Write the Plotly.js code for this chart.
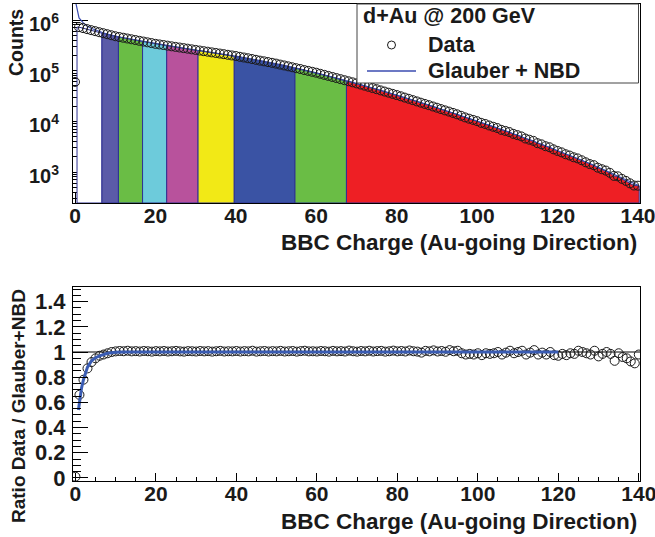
<!DOCTYPE html>
<html><head><meta charset="utf-8">
<script src="https://cdn.plot.ly/plotly-3.0.1.min.js"></script>
<style>html,body{margin:0;padding:0;background:#fff}#chart{width:655px;height:537px}</style>
</head><body><div id="chart"></div>
<script>
// BBC charge bins (Au-going direction), one entry per bin 0..140
const dataCounts = [
  6.0e4,
  7.24e5, 6.92e5, 6.61e5, 6.31e5, 6.03e5, 5.75e5, 5.50e5, 5.25e5, 5.01e5, 4.79e5,
  4.62e5, 4.47e5, 4.32e5, 4.17e5, 4.03e5, 3.89e5, 3.76e5, 3.63e5, 3.51e5, 3.39e5,
  3.30e5, 3.21e5, 3.12e5, 3.03e5, 2.95e5, 2.87e5, 2.79e5, 2.72e5, 2.64e5, 2.57e5,
  2.50e5, 2.43e5, 2.37e5, 2.30e5, 2.24e5, 2.18e5, 2.12e5, 2.06e5, 2.00e5, 1.95e5,
  1.88e5, 1.82e5, 1.76e5, 1.70e5, 1.64e5, 1.58e5, 1.53e5, 1.48e5, 1.43e5, 1.38e5,
  1.32e5, 1.27e5, 1.22e5, 1.17e5, 1.12e5, 1.08e5, 1.03e5, 9.91e4, 9.51e4, 9.12e4,
  8.69e4, 8.28e4, 7.89e4, 7.52e4, 7.16e4, 6.82e4, 6.50e4, 6.19e4, 5.90e4, 5.62e4,
  5.33e4, 5.06e4, 4.80e4, 4.55e4, 4.32e4, 4.09e4, 3.88e4, 3.68e4, 3.49e4, 3.31e4,
  3.13e4, 2.95e4, 2.79e4, 2.63e4, 2.48e4, 2.34e4, 2.21e4, 2.09e4, 1.97e4, 1.86e4,
  1.75e4, 1.65e4, 1.56e4, 1.47e4, 1.38e4, 1.29e4, 1.20e4, 1.13e4, 1.07e4, 1.01e4,
  9.35e3, 8.90e3, 8.30e3, 7.83e3, 7.41e3, 6.81e3, 6.49e3, 6.17e3, 5.67e3, 5.37e3,
  5.06e3, 4.59e3, 4.35e3, 4.13e3, 3.72e3, 3.53e3, 3.24e3, 3.09e3, 2.81e3, 2.61e3,
  2.45e3, 2.25e3, 2.12e3, 1.96e3, 1.86e3, 1.71e3, 1.56e3, 1.44e3, 1.37e3, 1.22e3,
  1.14e3, 1.07e3, 967, 841, 824, 735, 670, 600, 543, 539
];
const fitCounts = [
  2.6e6,
  1.10e6, 8.87e5, 7.60e5, 6.86e5, 6.35e5, 5.93e5, 5.61e5, 5.30e5, 5.01e5, 4.79e5,
  4.62e5, 4.47e5, 4.32e5, 4.17e5, 4.03e5, 3.89e5, 3.76e5, 3.63e5, 3.51e5, 3.39e5,
  3.30e5, 3.21e5, 3.12e5, 3.03e5, 2.95e5, 2.87e5, 2.79e5, 2.72e5, 2.64e5, 2.57e5,
  2.50e5, 2.43e5, 2.37e5, 2.30e5, 2.24e5, 2.18e5, 2.12e5, 2.06e5, 2.00e5, 1.95e5,
  1.88e5, 1.82e5, 1.76e5, 1.70e5, 1.64e5, 1.58e5, 1.53e5, 1.48e5, 1.43e5, 1.38e5,
  1.32e5, 1.27e5, 1.22e5, 1.17e5, 1.12e5, 1.08e5, 1.03e5, 9.91e4, 9.51e4, 9.12e4,
  8.69e4, 8.28e4, 7.89e4, 7.52e4, 7.16e4, 6.82e4, 6.50e4, 6.19e4, 5.90e4, 5.62e4,
  5.33e4, 5.06e4, 4.80e4, 4.55e4, 4.32e4, 4.09e4, 3.88e4, 3.68e4, 3.49e4, 3.31e4,
  3.13e4, 2.95e4, 2.79e4, 2.63e4, 2.48e4, 2.34e4, 2.21e4, 2.09e4, 1.97e4, 1.86e4,
  1.75e4, 1.65e4, 1.56e4, 1.47e4, 1.38e4, 1.30e4, 1.22e4, 1.15e4, 1.09e4, 1.02e4,
  9.59e3, 8.99e3, 8.43e3, 7.91e3, 7.41e3, 6.95e3, 6.52e3, 6.11e3, 5.73e3, 5.37e3,
  5.01e3, 4.68e3, 4.37e3, 4.07e3, 3.80e3, 3.55e3, 3.31e3, 3.09e3, 2.88e3, 2.69e3,
  2.49e3, 2.31e3, 2.14e3, 1.99e3, 1.84e3, 1.71e3, 1.58e3, 1.47e3, 1.36e3, 1.26e3,
  1.16e3, 1.07e3, 982, 904, 832, 766, 705, 649, 597, 550
];
const ratioValues = [
  0.01,
  0.66, 0.78, 0.87, 0.92, 0.95, 0.97, 0.98, 0.99, 1.0, 1.005,
  1.008, 1.006, 1.010, 1.005, 1.007, 1.004, 1.008, 1.006, 1.003, 1.007,
  1.005, 1.008, 1.004, 1.006, 1.009, 1.005, 1.003, 1.007, 1.006, 1.004,
  1.008, 1.005, 1.007, 1.003, 1.006, 1.009, 1.004, 1.006, 1.005, 1.008,
  1.004, 1.007, 1.005, 1.010, 1.003, 1.006, 1.008, 1.004, 1.007, 1.005,
  1.009, 1.004, 1.006, 1.008, 1.003, 1.007, 1.010, 1.005, 1.006, 1.004,
  1.008, 1.006, 1.003, 1.009, 1.005, 1.007, 1.004, 1.011, 1.006, 1.003,
  1.008, 1.005, 1.010, 1.004, 1.007, 1.009, 1.003, 1.006, 1.011, 1.005,
  1.008, 1.004, 1.012, 1.006, 1.003, 0.995, 1.009, 1.005, 1.013, 1.004,
  1.008, 1.002, 1.015, 1.006, 1.010, 0.99, 0.98, 0.985, 0.98, 0.99,
  0.975, 0.99, 0.985, 0.99, 1.0, 0.98, 0.995, 1.01, 0.99, 1.0,
  1.01, 0.98, 0.995, 1.015, 0.98, 0.995, 0.98, 1.0, 0.975, 0.97,
  0.985, 0.975, 0.99, 0.985, 1.01, 1.0, 0.99, 0.98, 1.01, 0.965,
  0.985, 1.0, 0.985, 0.93, 0.99, 0.96, 0.95, 0.925, 0.91, 0.98
];
const effCharge = [0.75, 1, 1.5, 2, 2.5, 3, 4, 5, 6, 7, 8, 10, 12, 120];
const effRatio  = [0.54, 0.6, 0.71, 0.78, 0.84, 0.88, 0.93, 0.955, 0.97, 0.982, 0.99, 0.998, 1.0, 1.0];
const bandEdges  = [0.5, 6.7, 10.8, 16.8, 22.8, 30.6, 39.6, 54.7, 67.5, 140.3];
const bandColors = ['#ffffff', '#5b5ba8', '#6abd45', '#6dcbdb', '#b8529c', '#f2e916', '#3a53a4', '#6abd45', '#ee1f24'];
const xTickVals = [0, 20, 40, 60, 80, 100, 120, 140];
const xTickText = ['0', '20', '40', '60', '80', '100', '120', '140'];
const yTopTickVals = [1e3, 1e4, 1e5, 1e6];
const yTopTickText = ['10<sup>3</sup>', '10<sup>4</sup>', '10<sup>5</sup>', '10<sup>6</sup>'];
const yBotTickVals = [0, 0.2, 0.4, 0.6, 0.8, 1.0, 1.2, 1.4];
const yBotTickText = ['0', '0.2', '0.4', '0.6', '0.8', '1', '1.2', '1.4'];

const charge = dataCounts.map((_, i) => i);
const bold = arr => arr.map(s => '<b>' + s + '</b>');

const FONT = 'Liberation Sans, Arial, Helvetica, sans-serif';
const INK = '#1a1a1a';
const W = 655, H = 537, ML = 73, MR = 15, MT = 4, MB = 56;
const PW = W - ML - MR, PH = H - MT - MB;
const px = v => (v - ML) / PW;
const py = v => (H - MB - v) / PH;

const yTopRange = [2.39, 6.316];
const floorVal = Math.pow(10, yTopRange[0]);
const NAVY = '#2e3192';

const traces = [];
for (let k = 0; k < bandColors.length; k++) {
  const a = bandEdges[k], b = bandEdges[k + 1];
  const xs = [a, a], ys = [floorVal, dataCounts[Math.min(Math.round(a), 140)]];
  for (let i = Math.ceil(a); i <= Math.floor(b); i++) {
    if (i > a && i < b) { xs.push(i); ys.push(dataCounts[i]); }
  }
  xs.push(b, b, a); ys.push(dataCounts[Math.min(Math.round(b), 140)], floorVal, floorVal);
  traces.push({x: xs, y: ys, xaxis: 'x', yaxis: 'y', mode: 'lines', fill: 'toself',
    fillcolor: bandColors[k], line: {color: NAVY, width: 1}, hoverinfo: 'skip', showlegend: false});
}
traces.push({x: charge, y: fitCounts, xaxis: 'x', yaxis: 'y', mode: 'lines', name: 'Glauber + NBD',
  line: {color: '#3b4db0', width: 1.2}, showlegend: false});
traces.push({x: charge, y: dataCounts, xaxis: 'x', yaxis: 'y', mode: 'markers', name: 'Data',
  marker: {symbol: 'circle-open', size: 9, color: INK, line: {width: 1}}, showlegend: false});
traces.push({x: charge, y: ratioValues, xaxis: 'x2', yaxis: 'y2', mode: 'markers', name: 'Ratio',
  marker: {symbol: 'circle-open', size: 9, color: INK, line: {width: 1}}, showlegend: false});
traces.push({x: effCharge, y: effRatio, xaxis: 'x2', yaxis: 'y2', mode: 'lines', name: 'Fit',
  line: {color: '#3a5cb3', width: 3}, showlegend: false});

const tickFont = {family: FONT, size: 21, color: INK};
const axBase = {showline: true, mirror: true, linecolor: '#000', linewidth: 1, showgrid: false,
  zeroline: false, ticks: 'inside', tickcolor: '#000', tickfont: tickFont, ticklabeloverflow: 'allow'};

const txt = (text, x, y, size, extra) => Object.assign({text: '<b>' + text + '</b>', xref: 'paper', yref: 'paper',
  x: px(x), y: py(y), xanchor: 'left', yanchor: 'middle', showarrow: false,
  font: {family: FONT, size: size, color: INK}}, extra || {});

const layout = {
  width: W, height: H, margin: {l: ML, r: MR, t: MT, b: MB},
  paper_bgcolor: '#fff', plot_bgcolor: '#fff', showlegend: false,
  font: {family: FONT, color: INK},
  xaxis: Object.assign({}, axBase, {domain: [0, 1], anchor: 'y', range: [-0.5, 140.5],
    tickmode: 'array', tickvals: xTickVals, ticktext: bold(xTickText), ticklen: 10, layer: 'below traces',
    ticklabelstandoff: -6,
    minor: {dtick: 5, ticks: 'inside', ticklen: 5, tickcolor: '#000'}}),
  yaxis: Object.assign({}, axBase, {domain: [py(203), 1], anchor: 'x', type: 'log', range: yTopRange,
    tickmode: 'array', tickvals: yTopTickVals, ticktext: bold(yTopTickText), ticklen: 15,
    ticklabelstandoff: 9, ticklabelshift: 4, layer: 'below traces', tickfont: {family: FONT, size: 20, color: INK},
    minor: {dtick: 'D1', ticks: 'inside', ticklen: 7, tickcolor: '#000'}}),
  xaxis2: Object.assign({}, axBase, {domain: [0, 1], anchor: 'y2', range: [-0.6, 140.3],
    tickmode: 'array', tickvals: xTickVals, ticktext: bold(xTickText), ticklen: 8, ticklabelstandoff: -6,
    minor: {dtick: 5, ticks: 'inside', ticklen: 4, tickcolor: '#000'}}),
  yaxis2: Object.assign({}, axBase, {domain: [0, py(287)], anchor: 'x2', range: [-0.024, 1.516],
    tickmode: 'array', tickvals: yBotTickVals, ticktext: bold(yBotTickText), ticklen: 15, ticklabelstandoff: 2,
    tickfont: {family: FONT, size: 22, color: INK},
    minor: {dtick: 0.05, tick0: 0, ticks: 'inside', ticklen: 8, tickcolor: '#000'}}),
  shapes: [
    {type: 'line', xref: 'x2 domain', yref: 'y2', x0: 0, x1: 1, y0: 1, y1: 1,
      line: {color: '#000', width: 1}, layer: 'below'},
    {type: 'rect', xref: 'paper', yref: 'paper', x0: px(357), x1: px(638.5), y0: py(83), y1: py(4),
      fillcolor: '#fff', line: {color: '#444', width: 1}, layer: 'above'},
    {type: 'circle', xref: 'paper', yref: 'paper', x0: px(387.5), x1: px(395.5), y0: py(49), y1: py(41),
      line: {color: INK, width: 1}, layer: 'above'},
    {type: 'line', xref: 'paper', yref: 'paper', x0: px(367), x1: px(416), y0: py(71), y1: py(71),
      line: {color: '#3b4db0', width: 1.3}, layer: 'above'}
  ],
  annotations: [
    txt('d+Au @ 200 GeV', 361, 16, 21.5),
    txt('Data', 426, 45, 21.5),
    txt('Glauber + NBD', 426, 71, 21.5),
    txt('Counts', 16, 43, 19.5, {xanchor: 'center', textangle: -90}),
    txt('Ratio Data / Glauber+NBD', 18, 406, 19, {xanchor: 'center', textangle: -90}),
    txt('BBC Charge (Au-going Direction)', 639, 242, 22.5, {xanchor: 'right'}),
    txt('BBC Charge (Au-going Direction)', 639, 521, 22.5, {xanchor: 'right'})
  ]
};

Plotly.newPlot('chart', traces, layout, {staticPlot: true, displayModeBar: false});
</script>
</body></html>
